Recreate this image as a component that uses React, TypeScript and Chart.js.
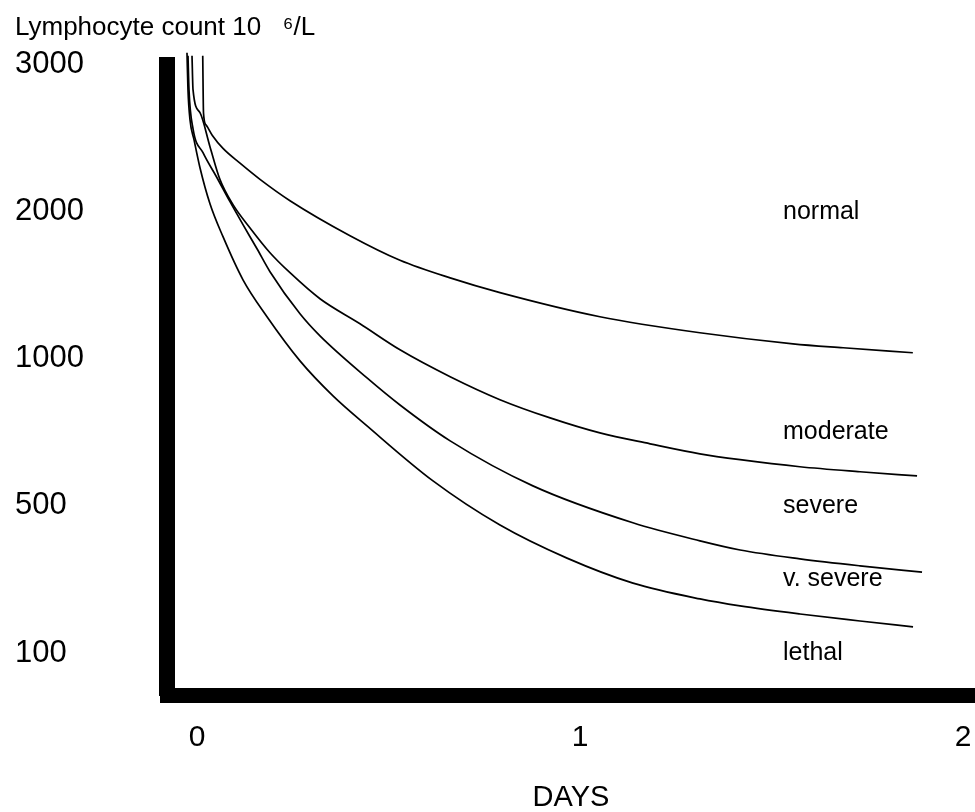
import { useEffect, useRef } from 'react';
import { Chart, registerables } from 'chart.js';

Chart.register(...registerables);

const FONT = '"Liberation Sans", Arial, Helvetica, sans-serif';

// Y axis: uneven count scale, ticks evenly spaced
const yTickCounts = [100, 500, 1000, 2000, 3000];
const yTickLabels = ['100', '500', '1000', '2000', '3000'];
// X axis: days
const xTickDays = [0, 1, 2];
const xTickLabels = ['0', '1', '2'];

// Boundary curves (days, lymphocyte count 10^6/L)
const normalDays = [0.015, 0.017, 0.0235, 0.0397, 0.0679, 0.1123, 0.1645, 0.2428, 0.3995, 0.530, 0.661, 0.791, 1.052, 1.313, 1.556, 1.687, 1.869];
const normalCounts = [3060, 2670, 2590, 2520, 2430, 2330, 2220, 2075, 1837, 1670, 1550, 1450, 1286, 1177, 1102, 1075, 1041];

const moderateDays = [-0.013, -0.0104, 0.0078, 0.0339, 0.0601, 0.094, 0.138, 0.1906, 0.2428, 0.3211, 0.4256, 0.530, 0.661, 0.791, 0.922, 1.052, 1.183, 1.313, 1.418, 1.574, 1.731, 1.880];
const moderateCounts = [3060, 2830, 2673, 2442, 2218, 2048, 1891, 1721, 1585, 1408, 1238, 1061, 939, 861, 799, 748, 711, 677, 657, 633, 616, 602];

const severeDays = [-0.0235, -0.0209, -0.0104, 0.0157, 0.0522, 0.0862, 0.1201, 0.1567, 0.1906, 0.2689, 0.3211, 0.4439, 0.530, 0.661, 0.877, 1.138, 1.313, 1.418, 1.574, 1.731, 1.893];
const severeCounts = [3060, 2830, 2565, 2401, 2231, 2068, 1912, 1748, 1592, 1306, 1156, 935, 843, 721, 568, 454, 405, 380, 356, 337, 320];

const vSevereDays = [-0.0261, -0.0235, -0.0183, -0.0078, 0.0078, 0.0339, 0.0679, 0.1201, 0.1828, 0.2689, 0.3551, 0.4439, 0.6162, 0.7911, 0.9661, 1.1384, 1.3133, 1.4178, 1.5744, 1.7311, 1.8695];
const vSevereCounts = [3080, 2830, 2626, 2490, 2299, 2054, 1830, 1537, 1286, 993, 874, 772, 585, 448, 358, 290, 247, 228, 206, 187, 171];

// Zone labels
const zoneNames = ['normal', 'moderate', 'severe', 'v. severe', 'lethal'];
const zoneCounts = [2000, 750, 500, 300, 100];
const zoneLabelDay = 1.53;

const series = [
  { name: 'normal', days: normalDays, counts: normalCounts },
  { name: 'moderate', days: moderateDays, counts: moderateCounts },
  { name: 'severe', days: severeDays, counts: severeCounts },
  { name: 'v. severe', days: vSevereDays, counts: vSevereCounts },
];

// map a count onto the evenly spaced tick positions of the y axis
function countToPos(c: number): number {
  let i = 0;
  while (i < yTickCounts.length - 2 && c > yTickCounts[i + 1]) i++;
  return i + (c - yTickCounts[i]) / (yTickCounts[i + 1] - yTickCounts[i]);
}

export default function App() {
  const ref = useRef<HTMLCanvasElement>(null);

  useEffect(() => {
    const zonePlugin = {
      id: 'zoneLabels',
      afterDatasetsDraw(chart: any) {
        const { ctx, scales } = chart;
        ctx.save();
        ctx.font = `25px ${FONT}`;
        ctx.fillStyle = '#000';
        ctx.textAlign = 'left';
        ctx.textBaseline = 'middle';
        zoneNames.forEach((n, i) => {
          ctx.fillText(
            n,
            scales.x.getPixelForValue(zoneLabelDay),
            scales.y.getPixelForValue(countToPos(zoneCounts[i]))
          );
        });
        ctx.restore();
      },
    };

    const chart = new Chart(ref.current as HTMLCanvasElement, {
      type: 'line',
      data: {
        datasets: series.map((s) => ({
          label: s.name,
          data: s.days.map((d, i) => ({ x: d, y: countToPos(s.counts[i]) })),
          borderColor: '#000',
          borderWidth: 1.7,
          pointRadius: 0,
          cubicInterpolationMode: 'monotone',
          fill: false,
          clip: false as any,
        })),
      },
      options: {
        responsive: false,
        animation: false,
        layout: { autoPadding: false, padding: { left: 15, top: 0, right: 0, bottom: 0 } },
        plugins: {
          legend: { display: false },
          tooltip: { enabled: false },
          title: {
            display: true,
            text: 'Lymphocyte count 10\u00a0\u00a0\u00a0\u2076/L',
            align: 'start',
            color: '#000',
            font: { family: FONT, size: 26, weight: 'normal' },
            padding: { top: 12, bottom: 21.4 },
          },
        },
        scales: {
          x: {
            type: 'linear',
            min: -0.0783,
            max: 2.0313,
            grid: { display: false, drawTicks: false },
            border: { display: true, width: 15, color: '#000' },
            afterBuildTicks: (s: any) => {
              s.ticks = xTickDays.map((v) => ({ value: v }));
            },
            ticks: {
              callback: (_v: any, i: number) => xTickLabels[i],
              color: '#000',
              font: { family: FONT, size: 30, lineHeight: 2.83 },
              padding: 0,
              maxRotation: 0,
              autoSkip: false,
            },
            title: {
              display: true,
              text: 'DAYS',
              color: '#000',
              font: { family: FONT, size: 29, lineHeight: 1 },
              padding: 0,
            },
            afterFit: (s: any) => {
              s.height = 116.5;
            },
          },
          y: {
            type: 'linear',
            min: -0.289,
            max: 4,
            grid: { display: false, drawTicks: false },
            border: { display: true, width: 16, color: '#000' },
            afterBuildTicks: (s: any) => {
              s.ticks = yTickCounts.map((_c, i) => ({ value: i }));
            },
            ticks: {
              callback: (_v: any, i: number) => yTickLabels[i],
              crossAlign: 'far',
              color: '#000',
              font: { family: FONT, size: 31 },
              autoSkip: false,
            },
            afterFit: (s: any) => {
              s.width = 152;
            },
          },
        },
      } as any,
      plugins: [zonePlugin],
    });
    return () => chart.destroy();
  }, []);

  return (
    <div style={{ position: 'absolute', left: 0, top: 0, width: 975, height: 812, background: '#fff' }}>
      <canvas ref={ref} width={975} height={812} style={{ display: 'block' }} />
    </div>
  );
}
